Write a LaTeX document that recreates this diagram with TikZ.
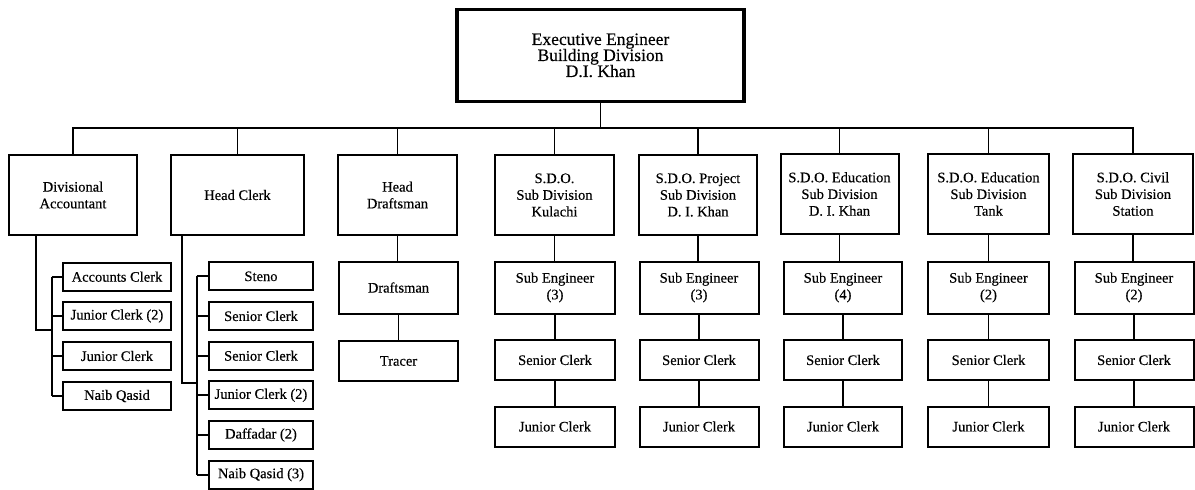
\documentclass[tikz,border=0pt]{standalone}
\usepackage{fontspec}
\setmainfont{Liberation Serif}[FakeBold=0.35]
\usetikzlibrary{calc}

\tikzset{
  box/.style={draw=black, line width=2pt, inner sep=0pt, align=center,
              font=\fontsize{14.5}{16.7}\selectfont},
  headbox/.style={draw=black, line width=3.4pt, inner sep=0pt, align=center,
              font=\fontsize{17.5}{16}\selectfont},
  lvl/.style={box, minimum height=80pt},
  mid/.style={box, minimum height=52pt},
  low/.style={box, minimum height=40pt},
  small/.style={box, minimum height=28pt},
  wire/.style={draw=black, line width=1.9pt}
}

\begin{document}
\begin{tikzpicture}[x=1pt, y=-1pt]
  \useasboundingbox (0,0) rectangle (1195,490);

  % head of the division
  \node[headbox, minimum width=287pt, minimum height=92pt] (ee) at (600.5,55.3)
    {Executive Engineer\\Building Division\\D.I. Khan};

  % first level
  \node[lvl, minimum width=128pt] (da)  at (73,195)    {Divisional\\Accountant};
  \node[lvl, minimum width=133pt] (hc)  at (237.5,195) {Head Clerk};
  \node[lvl, minimum width=119pt] (hd)  at (397.5,195) {Head\\Draftsman};
  \node[lvl, minimum width=119pt] (kul) at (554.5,195) {S.D.O.\\Sub Division\\Kulachi};
  \node[lvl, minimum width=118pt] (prj) at (698,195)   {S.D.O. Project\\Sub Division\\D. I. Khan};
  \node[lvl, minimum width=118pt] (edk) at (839.5,194) {S.D.O. Education\\Sub Division\\D. I. Khan};
  \node[lvl, minimum width=121pt] (tnk) at (988.5,194) {S.D.O. Education\\Sub Division\\Tank};
  \node[lvl, minimum width=120pt] (civ) at (1133,194)  {S.D.O. Civil\\Sub Division\\Station};

  % bus under the head box
  \coordinate (bus) at (0,128);
  \foreach \c in {da,hc,hd,kul,prj,edk,tnk,civ}
    \draw[wire] (ee.south) -- (ee.south |- bus) -| (\c.north);

  % Divisional Accountant staff
  \node[small, minimum width=108pt] (da1) at (117,276.7) {Accounts Clerk};
  \node[small, minimum width=108pt] (da2) at (117,316)   {Junior Clerk (2)};
  \node[small, minimum width=108pt] (da3) at (117,356)   {Junior Clerk};
  \node[small, minimum width=108pt] (da4) at (117,396)   {Naib Qasid};
  \coordinate (dabr) at (51.7,330);
  \draw[wire] ([xshift=28pt]da.south west) |- (dabr);
  \draw[wire] (dabr |- da1.west) -- (dabr |- da4.west);
  \foreach \s in {da1,da2,da3,da4}
    \draw[wire] (dabr |- \s.west) -- (\s.west);

  % Head Clerk staff
  \node[small, minimum width=104pt] (hc1) at (261,276.3) {Steno};
  \node[small, minimum width=104pt] (hc2) at (261,316)   {Senior Clerk};
  \node[small, minimum width=104pt] (hc3) at (261,355.7) {Senior Clerk};
  \node[small, minimum width=104pt] (hc4) at (261,395.3) {Junior Clerk (2)};
  \node[small, minimum width=104pt] (hc5) at (261,435)   {Daffadar (2)};
  \node[small, minimum width=104pt] (hc6) at (261,474.7) {Naib Qasid (3)};
  \coordinate (hcbr) at (196.7,383.3);
  \draw[wire] ([xshift=12pt]hc.south west) |- (hcbr);
  \draw[wire] (hcbr |- hc1.west) -- (hcbr |- hc6.west);
  \foreach \s in {hc1,hc2,hc3,hc4,hc5,hc6}
    \draw[wire] (hcbr |- \s.west) -- (\s.west);

  % Head Draftsman staff
  \node[mid, minimum width=119pt] (dm) at (398.5,287.5) {Draftsman};
  \node[low, minimum width=119pt] (tr) at (398.5,361)   {Tracer};
  \draw[wire] (hd.south) -- (hd.south |- dm.north);
  \draw[wire] (dm.south) -- (tr.north);

  % sub-division staff
  \foreach \c/\x/\w/\n in {kul/555/120/3, prj/699/119/3, edk/843/118/4,
                           tnk/988.5/121/2, civ/1134/119/2} {
    \node[mid, minimum width=\w pt] (\c se) at (\x,287.5) {Sub Engineer\\(\n)};
    \node[low, minimum width=\w pt] (\c sc) at (\x,360)   {Senior Clerk};
    \node[low, minimum width=\w pt] (\c jc) at (\x,426.5) {Junior Clerk};
    \draw[wire] (\c.south) -- (\c.south |- \c se.north);
    \draw[wire] (\c se.south) -- (\c sc.north);
    \draw[wire] (\c sc.south) -- (\c jc.north);
  }
\end{tikzpicture}
\end{document}
